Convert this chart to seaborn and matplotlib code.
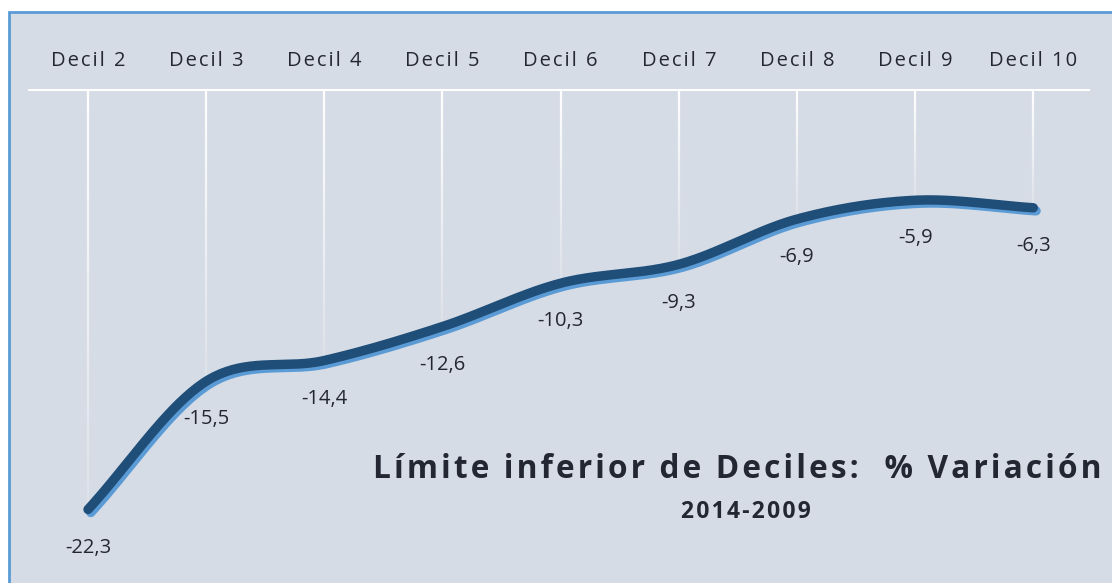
import numpy as np
import pandas as pd
import seaborn as sns
import matplotlib.pyplot as plt
import matplotlib.patheffects as pe
from matplotlib.patches import Rectangle

# Chart values
deciles = ["Decil 2", "Decil 3", "Decil 4", "Decil 5", "Decil 6",
           "Decil 7", "Decil 8", "Decil 9", "Decil 10"]
variacion = [-22.3, -15.5, -14.4, -12.6, -10.3, -9.3, -6.9, -5.9, -6.3]
titulo = "Límite inferior de Deciles:  % Variación"
subtitulo = "2014-2009"

bg = "#d6dce5"
txt = "#222733"
HS = "\u200a"  # hair space, used for the wide letter spacing


def spaced(s):
    return HS.join(s)


sns.set_style("white")
plt.rcParams["font.family"] = ["Open Sans", "DejaVu Sans"]

fig = plt.figure(figsize=(11.12, 5.83), dpi=100)
fig.patch.set_facecolor("white")
# chart area with the blue frame on the left and top
fig.patches.append(Rectangle((9 / 1112, -0.05), 1.3, 1 - 12 / 583 + 0.05,
                             transform=fig.transFigure, facecolor=bg,
                             edgecolor="#5b9bd5", linewidth=2, zorder=-5))

ax = fig.add_axes([28 / 1112, 0, 1062 / 1112, 494 / 583])
ax.set_facecolor("none")

x = np.arange(len(variacion))
y = np.array(variacion)

# smoothed line (Catmull-Rom through the points, like Excel's smoothing)
m = np.gradient(y)
xs, ys = [], []
for i in range(len(x) - 1):
    t = np.linspace(0, 1, 40, endpoint=(i == len(x) - 2))
    h00 = 2 * t**3 - 3 * t**2 + 1
    h10 = t**3 - 2 * t**2 + t
    h01 = -2 * t**3 + 3 * t**2
    h11 = t**3 - t**2
    xs.extend(x[i] + t)
    ys.extend(h00 * y[i] + h10 * m[i] + h01 * y[i + 1] + h11 * m[i + 1])
curve = pd.DataFrame({"pos": xs, "val": ys})

# drop lines from the axis, fading downward
for xi, yi in zip(x, y):
    n = 30
    edges = np.linspace(0, yi, n + 1)
    for k in range(n):
        ax.plot([xi, xi], [edges[k], edges[k + 1]], color="white",
                lw=1.6, alpha=1 - 0.85 * k / n, solid_capstyle="butt", zorder=1)

ax.axhline(0, color="white", lw=2.2, zorder=2)

sns.lineplot(data=curve, x="pos", y="val", ax=ax, color="#1f4e79", lw=6.8,
             sort=False, zorder=3,
             path_effects=[pe.SimpleLineShadow(offset=(2, -2.2), shadow_color="#5b9bd5",
                                               alpha=1, rho=1),
                           pe.Normal()])
ax.lines[-1].set_solid_capstyle("round")

for xi, yi in zip(x, y):
    ax.annotate(f"{yi:.1f}".replace(".", ","), (xi, yi), xytext=(0, -27.5),
                textcoords="offset points", ha="center", va="center",
                fontsize=14.5, color=txt)

ax.set_xlim(-0.508, 8.48)
ax.set_ylim(-26.2, 0)
ax.xaxis.tick_top()
ax.set_xticks(x)
ax.set_xticklabels([spaced(d) for d in deciles], fontsize=14.5, color=txt)
ax.tick_params(axis="x", length=0, pad=13)
ax.set_yticks([])
ax.set_xlabel("")
ax.set_ylabel("")
for s in ax.spines.values():
    s.set_visible(False)

t1 = fig.text(373 / 1112, 1 - 470 / 583, spaced(titulo), ha="left", va="center",
              fontsize=24, fontweight="bold", color=txt)
# shrink the title so it ends just inside the right edge
fig.canvas.draw()
w = t1.get_window_extent().width
t1.set_fontsize(24 * min(1.0, (1106 - 373) / w))

fig.text(746 / 1112, 1 - 512 / 583, spaced(subtitulo), ha="center", va="center",
         fontsize=16.5, fontweight="bold", color=txt)

fig.savefig("out.png", dpi=100)
